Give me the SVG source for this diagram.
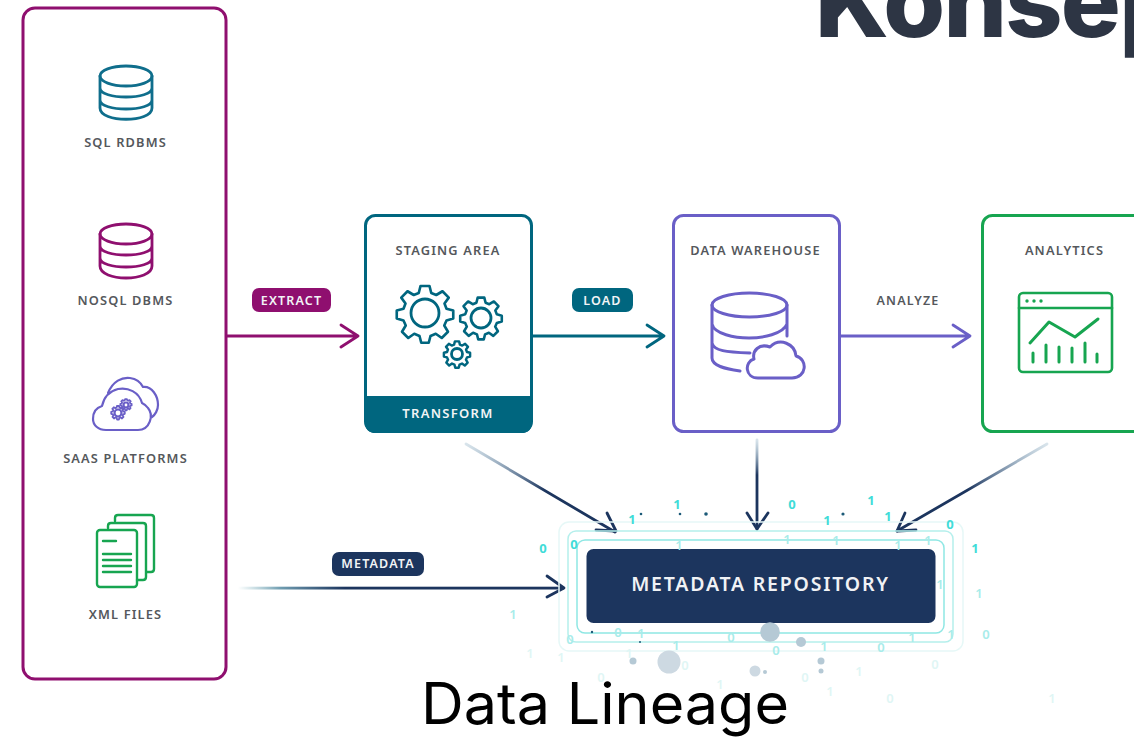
<svg xmlns="http://www.w3.org/2000/svg" width="1134" height="740" viewBox="0 0 1134 740">
<defs>
<style>
text{font-family:"Noto Sans","Open Sans","Liberation Sans",sans-serif}
.lb{font-size:12.800px;font-weight:600;letter-spacing:1.150px;fill:#55585c;text-anchor:middle}
.pl{font-size:12.500px;font-weight:600;letter-spacing:1.150px;fill:#f2f4f6;text-anchor:middle}
.ic{fill:none;stroke-width:2.800;stroke-linecap:round;stroke-linejoin:round}
.a{fill:none;stroke-width:2.800;stroke-linecap:round;stroke-linejoin:round}
.b{font-size:13px;font-weight:700;fill:#3fdcd8;text-anchor:middle}
.g{font-size:13px;font-weight:600;fill:#a8ecea;text-anchor:middle}
.f{font-size:13px;font-weight:600;fill:#dff6f5;text-anchor:middle}
</style>
<linearGradient id="gm" x1="238" y1="0" x2="345" y2="0" gradientUnits="userSpaceOnUse"><stop offset="0" stop-color="#7fb5c0" stop-opacity="0"/><stop offset=".4" stop-color="#6f9cb0"/><stop offset="1" stop-color="#1c355e"/></linearGradient>
<linearGradient id="g1" x1="466" y1="444" x2="545" y2="491" gradientUnits="userSpaceOnUse"><stop offset="0" stop-color="#7fa5bd" stop-opacity=".3"/><stop offset="1" stop-color="#1c355e"/></linearGradient>
<linearGradient id="g2" x1="757" y1="440" x2="757" y2="475" gradientUnits="userSpaceOnUse"><stop offset="0" stop-color="#7fa5bd" stop-opacity=".3"/><stop offset="1" stop-color="#1c355e"/></linearGradient>
<linearGradient id="g3" x1="1047" y1="444" x2="968" y2="491" gradientUnits="userSpaceOnUse"><stop offset="0" stop-color="#7fa5bd" stop-opacity=".3"/><stop offset="1" stop-color="#1c355e"/></linearGradient>
<path id="gear" d="M-3.600-20 3.600-20 5-14.400 9-12.800 14-15.800 19-10.700 15.600-6 17.200-1.800 22.600-.4 22.600 6 17.200 7.600 15.400 11.600 18.400 16.600 13.400 21.600 8.600 18.200 4.400 20 3 25.400-3 25.400-4.400 20-8.600 18.200-13.400 21.600-18.400 16.600-15.400 11.600-17.200 7.600-22.600 6-22.600-.4-17.200-1.800-15.600-6-19-10.700-14-15.800-9-12.800-5-14.400Z"/>
</defs>
<rect width="1134" height="740" fill="#fff"/>

<g id="title">
<text x="815" y="37" style="font-family:Inter,'Noto Sans',sans-serif;font-weight:800;letter-spacing:-1.700px" font-size="100" fill="#2d3544">Konsep</text>
</g>

<g id="sources">
<rect x="23" y="8" width="203" height="671" rx="12" fill="none" stroke="#8f0f6f" stroke-width="3"/>
</g>

<g id="sql-rdbms">
<g class="ic" stroke="#0f6e8c"><ellipse cx="126" cy="76" rx="26" ry="10"/><path d="M100 76V108C100 123 152 123 152 108V76M100 88C100 100 152 100 152 88M100 100C100 112 152 112 152 100"/></g>
<text class="lb" x="125.500" y="147">SQL RDBMS</text>
</g>
<g id="nosql-dbms">
<g class="ic" stroke="#8f0f6f"><ellipse cx="126" cy="234" rx="26" ry="10"/><path d="M100 234V266C100 282 152 282 152 266V234M100 246C100 258 152 258 152 246M100 258C100 270 152 270 152 258"/></g>
<text class="lb" x="125.500" y="305">NOSQL DBMS</text>
</g>
<g id="saas-platforms">
<g class="ic" stroke="#6a5fc7" style="stroke-width:2.200">
<path d="M106 430H138C150 430 154 415 148 408C146 405 144 404 142 403C139 392 128 387 118 389C110 391 104 397 102 406C95 408 93 414 93 419C93 425 98 430 106 430Z"/>
<path d="M108 393C113 381 122 377 130 378C137 379 141 383 143 387C152 386 158 396 158 405C158 410 155 415 152 417"/>
<use href="#gear" transform="translate(118,412) scale(.3)" style="stroke-width:6"/>
<circle cx="118" cy="413" r="3.500"/>
<use href="#gear" transform="translate(126,404) scale(.25)" style="stroke-width:7"/>
<circle cx="126" cy="405" r="2.500"/>
</g>
<text class="lb" x="125.500" y="463">SAAS PLATFORMS</text>
</g>
<g id="xml-files">
<g class="ic" stroke="#17a550" style="stroke-width:2.400">
<path d="M115 521V518Q115 515 118 515H151Q154 515 154 518V569Q154 572 151 572H147"/>
<path d="M108 528V526Q108 523 111 523H143Q146 523 146 526V577Q146 580 143 580H137"/>
<rect x="97" y="530" width="40" height="57" rx="3"/>
<path d="M103 541H116M103 554H131M103 560H131M103 566H131M103 572H131"/>
</g>
<text class="lb" x="125.500" y="619">XML FILES</text>
</g>

<g id="connectors">
<path class="a" stroke="#8f0f6f" d="M227 336H358M341 325 358 336 341 347"/>
<path class="a" stroke="#00667f" d="M533 336H664M647 325 664 336 647 347"/>
<path class="a" stroke="#6a5fc7" d="M840 336H970M953 325 970 336 953 347"/>
<path class="a" stroke="url(#g1)" d="M466 444 615 532"/>
<path class="a" stroke="#1c355e" d="M596 530 616 531 607 513"/>
<path class="a" stroke="url(#g2)" d="M757 440V529"/>
<path class="a" stroke="#1c355e" d="M747 513 757 529 768 513"/>
<path class="a" stroke="url(#g3)" d="M1047 444 897 531"/>
<path class="a" stroke="#1c355e" d="M905 513 897 531 916 530"/>
<rect x="238" y="586.700" width="326" height="2.800" fill="url(#gm)"/>
<path class="a" stroke="#1c355e" d="M547 576 564 588 547 597"/>
</g>

<g id="extract"><rect x="252" y="288" width="79" height="24" rx="7" fill="#8f0f6f"/><text class="pl" x="291.500" y="304.500">EXTRACT</text></g>
<g id="load"><rect x="572" y="288" width="61" height="24" rx="7" fill="#00667f"/><text class="pl" x="602.500" y="304.500">LOAD</text></g>
<g id="analyze"><text class="lb" x="908" y="304.500" style="font-size:12.500px">ANALYZE</text></g>
<g id="metadata"><rect x="332" y="552" width="92" height="24" rx="7" fill="#1c355e"/><text class="pl" x="378" y="568">METADATA</text></g>

<g id="staging-area">
<rect x="365.500" y="215.500" width="166" height="216" rx="10" fill="#fff" stroke="#00667f" stroke-width="3"/>
<path d="M365 396H532V422Q532 433 521 433H376Q365 433 365 422Z" fill="#00667f"/>
<text class="lb" x="448" y="255">STAGING AREA</text>
<text class="pl" x="448" y="418" style="font-size:13px;letter-spacing:1.300px">TRANSFORM</text>
<g class="ic" stroke="#00667f">
<use href="#gear" transform="translate(425,311) scale(1.250)" style="stroke-width:2.100"/>
<circle cx="425" cy="313" r="14"/>
<use href="#gear" transform="translate(481,316) scale(.92)" style="stroke-width:2.800"/>
<circle cx="481" cy="318" r="10"/>
<use href="#gear" transform="translate(457,353) scale(.58)" style="stroke-width:4.200"/>
<circle cx="457" cy="354" r="5.500"/>
</g>
</g>

<g id="data-warehouse">
<rect x="673.500" y="215.500" width="166" height="216" rx="10" fill="#fff" stroke="#6a5fc7" stroke-width="3"/>
<text class="lb" x="755.500" y="255">DATA WAREHOUSE</text>
<g class="ic" stroke="#6a5fc7" style="stroke-width:3">
<ellipse cx="749.500" cy="305" rx="37.500" ry="12"/>
<path d="M712 305V358C712 366 726 369 740 371M787 305V336M712 324C714 334 735 338 749 338S783 334 787 324M712 343C714 351 726 352 750 353"/>
<path d="M758 378H792C807 378 808 359 796 356C795 344 780 337 770 347C759 343 752 351 754 359C744 362 745 378 758 378Z"/>
</g>
</g>

<g id="analytics">
<rect x="982.500" y="215.500" width="170" height="216" rx="10" fill="#fff" stroke="#17a550" stroke-width="3"/>
<text class="lb" x="1064.500" y="255">ANALYTICS</text>
<g class="ic" stroke="#17a550" style="stroke-width:2.600">
<rect x="1019" y="293" width="93" height="79" rx="4"/>
<path d="M1019 308H1112"/>
<path d="M1030 343 1049 322 1075 337 1098 319" style="stroke-width:3"/>
<path d="M1033 353V362M1046 345V362M1059 347V362M1072 348V362M1085 343V362M1097 354V362" style="stroke-width:3"/>
</g>
<g fill="#17a550"><circle cx="1027" cy="301" r="1.700"/><circle cx="1034" cy="301" r="1.700"/><circle cx="1041" cy="301" r="1.700"/></g>
</g>

<g id="metadata-repository">
<rect x="559" y="522" width="404" height="129" rx="10" fill="none" stroke="#e6f8f7" stroke-width="1.500"/>
<rect x="568" y="531" width="385" height="111" rx="8" fill="none" stroke="#b5efec" stroke-width="1.500"/>
<rect x="577" y="540" width="367" height="93" rx="8" fill="none" stroke="#8fe7e4" stroke-width="1.500"/>
<rect x="586.500" y="549" width="349" height="74" rx="7" fill="#1c355e"/>
<text x="760.500" y="591" font-size="19.500" font-weight="600" letter-spacing="1.800" fill="#f0f2f5" text-anchor="middle">METADATA REPOSITORY</text>
</g>

<g id="bits">
<text class="b" x="677" y="509">1</text><text class="b" x="632" y="524">1</text><text class="b" x="792" y="509">0</text><text class="b" x="871" y="505">1</text><text class="b" x="827" y="525">1</text><text class="b" x="888" y="521">1</text><text class="b" x="950" y="529">0</text><text class="b" x="543" y="553">0</text><text class="b" x="574" y="549">0</text><text class="b" x="975" y="553">1</text>
<text class="g" x="679" y="550">1</text><text class="g" x="787" y="544">1</text><text class="g" x="836" y="545">1</text><text class="g" x="898" y="550">1</text><text class="g" x="928" y="545">1</text><text class="g" x="979" y="598">1</text><text class="g" x="940" y="589">1</text><text class="g" x="513" y="619">1</text><text class="g" x="986" y="639">0</text>
<text class="g" x="570" y="644">0</text><text class="g" x="618" y="637">0</text><text class="g" x="641" y="638">1</text><text class="g" x="731" y="642">0</text><text class="g" x="912" y="642">1</text><text class="g" x="951" y="639">1</text><text class="g" x="676" y="650">1</text><text class="g" x="776" y="655">0</text><text class="g" x="824" y="651">1</text><text class="g" x="881" y="652">0</text>
<text class="f" x="530" y="658">1</text><text class="f" x="561" y="662">1</text><text class="f" x="629" y="658">1</text><text class="f" x="685" y="670">0</text><text class="f" x="935" y="669">0</text><text class="f" x="805" y="682">0</text><text class="f" x="859" y="676">1</text><text class="f" x="601" y="682">0</text><text class="f" x="720" y="689">1</text><text class="f" x="830" y="696">1</text><text class="f" x="890" y="703">0</text><text class="f" x="1052" y="703">1</text>
<g fill="#1c5a78"><circle cx="641" cy="514" r="1.300"/><circle cx="680" cy="514" r="1.300"/><circle cx="706" cy="514" r="1.800"/><circle cx="843" cy="514" r="1.600"/><circle cx="592" cy="632" r="1.200"/><circle cx="640" cy="642" r="1"/></g>
<g fill="#b5c9d5"><circle cx="770" cy="632" r="9.800"/><circle cx="801" cy="642" r="5"/><circle cx="633" cy="661" r="3.500"/><circle cx="821" cy="661" r="3.500"/><circle cx="821" cy="671" r="2.500"/><circle cx="765" cy="672" r="2"/></g>
<circle cx="669" cy="662" r="11.500" fill="#cdd9e2"/><circle cx="755" cy="671" r="5.500" fill="#cdd9e2"/>
</g>

<g id="caption">
<text x="421" y="724" style="font-family:Inter,'Noto Sans',sans-serif" font-size="57" fill="#000" textLength="368" lengthAdjust="spacingAndGlyphs">Data Lineage</text>
</g>
</svg>
